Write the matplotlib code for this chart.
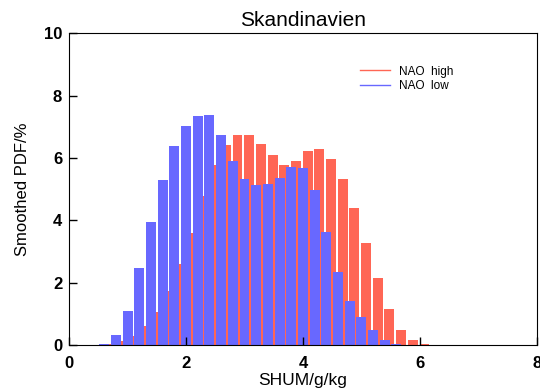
import matplotlib
matplotlib.use("Agg")
import matplotlib.pyplot as plt
import numpy as np

params = {
    'font.family': 'Liberation Sans',
    'xtick.direction': 'in',
    'ytick.direction': 'in',
}
plt.rcParams.update(params)

# bin centres (SHUM, g/kg)
low_x = [0.4, 0.6, 0.8, 1.0, 1.2, 1.4, 1.6, 1.8, 2.0, 2.2, 2.4, 2.6, 2.8, 3.0, 3.2,
         3.4, 3.6, 3.8, 4.0, 4.2, 4.4, 4.6, 4.8, 5.0, 5.2, 5.4, 5.6, 5.8]
low_pdf = [0.01, 0.05, 0.31, 1.11, 2.46, 3.96, 5.29, 6.37, 7.01, 7.33, 7.37, 6.72, 5.89, 5.34, 5.12,
           5.15, 5.37, 5.72, 5.69, 4.96, 3.64, 2.33, 1.43, 0.89, 0.47, 0.18, 0.05, 0.01]

high_x = [0.68, 0.88, 1.08, 1.28, 1.48, 1.68, 1.88, 2.08, 2.28, 2.48, 2.68, 2.88, 3.08, 3.28,
          3.48, 3.68, 3.88, 4.08, 4.28, 4.48, 4.68, 4.88, 5.08, 5.28, 5.48, 5.68, 5.88, 6.08, 6.28]
high_pdf = [0.03, 0.13, 0.28, 0.60, 1.06, 1.75, 2.59, 3.61, 4.77, 5.76, 6.40, 6.72, 6.75, 6.46,
            6.08, 5.79, 5.89, 6.21, 6.30, 5.98, 5.34, 4.41, 3.29, 2.14, 1.17, 0.50, 0.16, 0.03, 0.01]

red = '#ff6655'
blue = '#6868ff'

fig = plt.figure(figsize=(5.4, 3.9), dpi=100)
ax = fig.add_axes([0.128, 0.115, 0.866, 0.80])

ax.bar(high_x, high_pdf, width=0.17, color=red, linewidth=0)
ax.bar(low_x, low_pdf, width=0.17, color=blue, linewidth=0)

# legend drawn as lines
ax.plot([], [], color=red, lw=1, label='NAO  high')
ax.plot([], [], color=blue, lw=1, label='NAO  low')
ax.legend(loc='upper left', bbox_to_anchor=(0.6, 0.93), frameon=False,
          fontsize=8.5, handlelength=2.5, labelspacing=0.2)

ax.set_xlim(0, 8)
ax.set_ylim(0, 10)
ax.set_xticks([0, 2, 4, 6, 8])
ax.set_yticks([0, 2, 4, 6, 8, 10])
ax.tick_params(labelsize=12, length=6, width=1)
ax.tick_params(axis='x', pad=8)
ax.tick_params(axis='y', pad=5)
for lab in ax.get_xticklabels() + ax.get_yticklabels():
    lab.set_fontweight('bold')
ax.set_title('Skandinavien', fontsize=15, pad=5)
ax.set_xlabel('SHUM/g/kg', fontsize=12.5, labelpad=1)
ax.set_ylabel('Smoothed PDF/%', fontsize=12, labelpad=10)

plt.savefig('out.png', dpi=100)
